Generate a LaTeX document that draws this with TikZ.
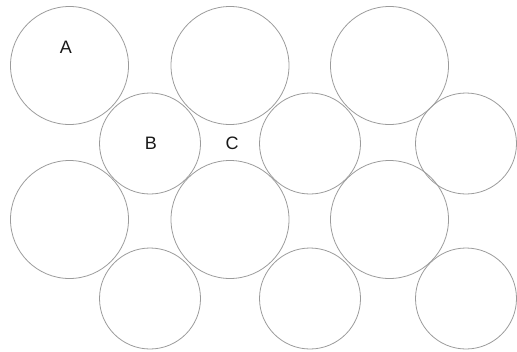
\documentclass[tikz,border=0pt]{standalone}
\usepackage{fontspec}
\setmainfont{Liberation Sans}
\usepackage{tikz}
\usetikzlibrary{positioning}

\definecolor{ringgray}{RGB}{155,155,155}

\begin{document}
\begin{tikzpicture}[
    x=1pt, y=-1pt,
    font=\fontsize{18}{20}\selectfont,
    ring/.style={draw=ringgray, line width=0.8pt, circle, inner sep=0pt},
    big/.style={ring, minimum size=118pt},
    small/.style={ring, minimum size=101pt},
    lbl/.style={inner sep=0pt, text=black!90}
  ]
  \useasboundingbox (0,0) rectangle (517,351);
  % row 1: large circles
  \node[big] (bigA) at (69.5,65.5) {};
  \node[big] (bigTM) at (230,65.5) {};
  \node[big] (bigTR) at (389.5,65.5) {};
  % row 2: small circles
  \node[small] (smallB) at (150,143.5) {};
  \node[small] (smallM) at (310,143.5) {};
  \node[small] (smallR) at (466,143.5) {};
  % row 3: large circles
  \node[big] (bigBL) at (69.5,219.5) {};
  \node[big] (bigBM) at (230,219.5) {};
  \node[big] (bigBR) at (389.5,219.5) {};
  % row 4: small circles
  \node[small] (lowL) at (150,298.5) {};
  \node[small] (lowM) at (310,298.5) {};
  \node[small] (lowR) at (466,298.5) {};
  % labels
  \node[lbl] (labA) at ([xshift=-3.5pt, yshift=18pt]bigA.center) {A};
  \node[lbl] (labB) at ([xshift=1pt]smallB.center) {B};
  \node[lbl, right=81pt of labB.center, anchor=center] (labC) {C};
\end{tikzpicture}
\end{document}
